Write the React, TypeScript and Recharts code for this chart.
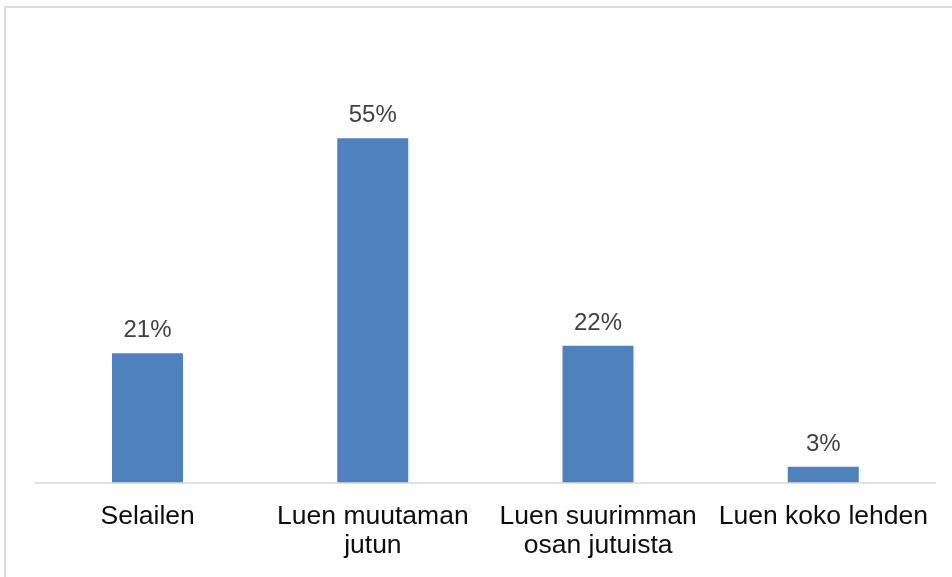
import React from "react";
import { BarChart, Bar, XAxis, YAxis, LabelList } from "recharts";

const categories = ["Selailen", "Luen muutaman jutun", "Luen suurimman osan jutuista", "Luen koko lehden"];
const tickLines = [["Selailen"], ["Luen muutaman", "jutun"], ["Luen suurimman", "osan jutuista"], ["Luen koko lehden"]];
const shares = [0.207, 0.55, 0.219, 0.026];

const data = categories.map((c, i) => ({ name: c, value: shares[i], lines: tickLines[i] }));

const FONT = "'Liberation Sans', Arial, sans-serif";

const Tick = (props: any) => {
  const { x, y, payload, index } = props;
  const lines = tickLines[index] ?? [String(payload.value)];
  return (
    <text x={x} y={y} textAnchor="middle" fill="#0d0d0d" fontSize={26.5} fontFamily={FONT}>
      {lines.map((l: string, i: number) => (
        <tspan key={i} x={x} dy={i === 0 ? 41 : 29}>
          {l}
        </tspan>
      ))}
    </text>
  );
};

export default function App() {
  return (
    <div>
      <div
        style={{
          position: "fixed",
          left: 4,
          top: 6,
          width: 1000,
          height: 700,
          border: "2px solid #dcdcdc",
          boxSizing: "border-box",
        }}
      />
      <div style={{ position: "fixed", left: 0, top: 0 }}>
        <BarChart
          width={952}
          height={577}
          data={data}
          margin={{ top: 107, right: 16, bottom: 0, left: 35 }}
        >
          <YAxis hide domain={[0, 0.6]} />
          <XAxis
            dataKey="name"
            height={94}
            tickLine={false}
            tickSize={0}
            tickMargin={0}
            axisLine={{ stroke: "#d9d9d9", strokeWidth: 1.5 }}
            tick={<Tick />}
            interval={0}
          />
          <Bar dataKey="value" fill="#4f81bd" barSize={71} isAnimationActive={false}>
            <LabelList
              dataKey="value"
              position="top"
              offset={16}
              fill="#404040"
              fontSize={24}
              fontFamily={FONT}
              formatter={(v: any) => `${Math.round(Number(v) * 100)}%`}
            />
          </Bar>
        </BarChart>
      </div>
    </div>
  );
}
